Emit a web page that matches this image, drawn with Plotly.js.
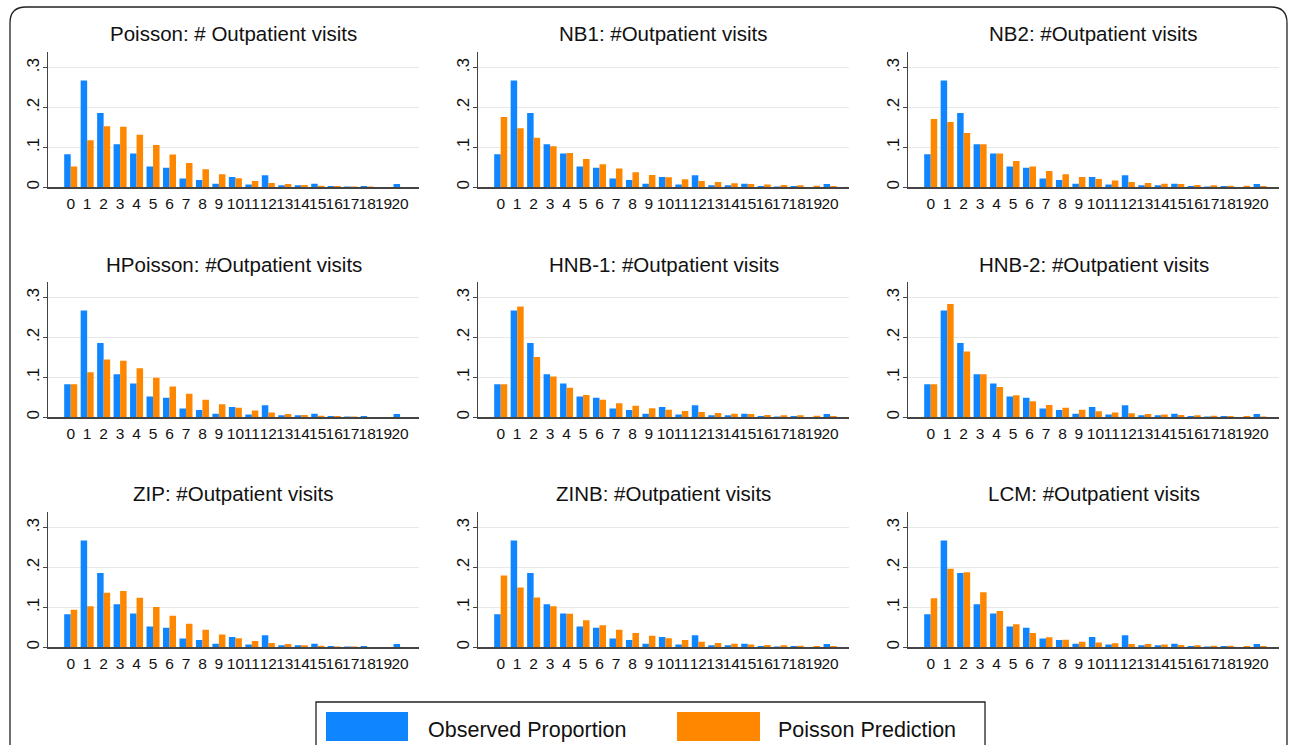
<!DOCTYPE html>
<html>
<head>
<meta charset="utf-8">
<script src="https://cdn.plot.ly/plotly-3.0.1.min.js"></script>
<style>html,body{margin:0;padding:0;background:#fff;}#chart{width:1295px;height:745px;}</style>
</head>
<body>
<div id="chart"></div>
<script>
// ---- data ----
const counts = [0,1,2,3,4,5,6,7,8,9,10,11,12,13,14,15,16,17,18,19,20];
const countLabels = ["0","1","2","3","4","5","6","7","8","9","10","11","12","13","14","15","16","17","18","19","20"];
const yTickVals = [0, 0.1, 0.2, 0.3];
const yTickText = ["0", ".1", ".2", ".3"];
const seriesNames = ["Observed Proportion", "Poisson Prediction"];

const observed = [0.083,0.268,0.186,0.108,0.085,0.052,0.049,0.022,0.018,0.009,0.026,0.007,0.030,0.005,0.005,0.009,0.003,0.002,0.003,0.001,0.008];

const panelTitles = [
  "Poisson: # Outpatient visits", "NB1: #Outpatient visits", "NB2: #Outpatient visits",
  "HPoisson: #Outpatient visits", "HNB-1: #Outpatient visits", "HNB-2: #Outpatient visits",
  "ZIP: #Outpatient visits", "ZINB: #Outpatient visits", "LCM: #Outpatient visits"
];

const predPoisson  = [0.052,0.118,0.153,0.152,0.132,0.106,0.082,0.061,0.045,0.033,0.023,0.016,0.011,0.008,0.006,0.004,0.003,0.002,0.002,0.001,0.001];
const predNB1      = [0.176,0.148,0.124,0.103,0.086,0.071,0.058,0.047,0.038,0.031,0.025,0.020,0.016,0.013,0.010,0.008,0.007,0.006,0.005,0.004,0.003];
const predNB2      = [0.171,0.164,0.136,0.108,0.085,0.066,0.052,0.041,0.033,0.026,0.021,0.017,0.013,0.011,0.009,0.008,0.006,0.005,0.004,0.004,0.003];
const predHPoisson = [0.083,0.113,0.145,0.142,0.123,0.099,0.077,0.059,0.044,0.033,0.024,0.017,0.012,0.008,0.006,0.004,0.003,0.002,0.001,0.001,0.001];
const predHNB1     = [0.083,0.278,0.151,0.102,0.074,0.056,0.044,0.035,0.029,0.023,0.019,0.016,0.013,0.011,0.009,0.008,0.006,0.005,0.005,0.004,0.003];
const predHNB2     = [0.083,0.284,0.165,0.108,0.076,0.055,0.040,0.031,0.024,0.019,0.015,0.012,0.010,0.008,0.007,0.006,0.005,0.004,0.003,0.003,0.002];
const predZIP      = [0.094,0.103,0.137,0.141,0.124,0.101,0.079,0.059,0.044,0.032,0.023,0.016,0.011,0.008,0.005,0.004,0.002,0.002,0.001,0.001,0.001];
const predZINB     = [0.180,0.150,0.125,0.103,0.084,0.068,0.055,0.044,0.036,0.029,0.023,0.018,0.014,0.011,0.009,0.007,0.006,0.005,0.004,0.003,0.003];
const predLCM      = [0.123,0.197,0.188,0.138,0.091,0.058,0.036,0.025,0.019,0.014,0.012,0.010,0.008,0.008,0.007,0.006,0.005,0.004,0.004,0.003,0.003];

const predictions = [predPoisson, predNB1, predNB2, predHPoisson, predHNB1, predHNB2, predZIP, predZINB, predLCM];

// ---- styling / layout ----
const W = 1295, H = 745;
const BLUE = "#0f86ff", ORANGE = "#ff8700";
const FONT = "Liberation Sans, Arial, Helvetica, sans-serif";
const colPx = [[48.3, 419], [478.3, 849], [908.3, 1279]];
const rowPx = [[51.7, 187.3], [281.7, 417.3], [511.7, 647.3]]; // top, bottom (px)
const titleY = [34, 264, 494];

const traces = [];
const layout = {
  width: W, height: H,
  margin: {l: 0, r: 0, t: 0, b: 0},
  paper_bgcolor: "#ffffff", plot_bgcolor: "#ffffff",
  barmode: "group", bargap: 0.21, bargroupgap: 0,
  showlegend: false,
  font: {family: FONT, color: "#111"},
  annotations: [], shapes: []
};

for (let i = 0; i < 9; i++) {
  const r = Math.floor(i / 3), c = i % 3;
  const sfx = i === 0 ? "" : String(i + 1);
  const xa = "x" + sfx, ya = "y" + sfx;
  traces.push({type: "bar", x: counts, y: observed, name: seriesNames[0], xaxis: xa, yaxis: ya,
    marker: {color: BLUE, line: {width: 0}}, hoverinfo: "x+y"});
  traces.push({type: "bar", x: counts, y: predictions[i], name: seriesNames[1], xaxis: xa, yaxis: ya,
    marker: {color: ORANGE, line: {width: 0}}, hoverinfo: "x+y"});
  layout["xaxis" + sfx] = {
    domain: [colPx[c][0] / W, colPx[c][1] / W], anchor: ya,
    range: [-1.36, 21.15], tickvals: counts, ticktext: countLabels,
    showgrid: false, zeroline: false, showline: true, linecolor: "#444", linewidth: 1.3,
    ticks: "", tickangle: 0, ticklabelstandoff: 2,
    tickfont: {family: FONT, size: 15.5, color: "#111"}, fixedrange: true
  };
  layout["yaxis" + sfx] = {
    domain: [1 - rowPx[r][1] / H, 1 - rowPx[r][0] / H], anchor: xa,
    range: [0, 0.34], tickvals: yTickVals, ticktext: yTickText,
    showgrid: true, gridcolor: "#e8e8e8", gridwidth: 1.3, zeroline: false,
    showline: true, linecolor: "#444", linewidth: 1.3,
    ticks: "outside", ticklen: 4, tickcolor: "#444", tickwidth: 1,
    tickangle: -90, ticklabelstandoff: -3,
    tickfont: {family: FONT, size: 17, color: "#111"}, fixedrange: true
  };
  layout.annotations.push({
    text: panelTitles[i], xref: "paper", yref: "paper",
    x: (colPx[c][0] + colPx[c][1]) / 2 / W, y: 1 - titleY[r] / H,
    xanchor: "center", yanchor: "middle", showarrow: false,
    font: {family: FONT, size: 20.5, color: "#111"}
  });
}

// outer rounded frame
(function(){
  const x0 = 10 / W, x1 = 1287 / W, yt = 1 - 7 / H, yb = -0.05;
  const rx = 16 / W, ry = 16 / H;
  layout.shapes.push({type: "path", xref: "paper", yref: "paper",
    path: `M ${x0},${yb} L ${x0},${yt - ry} Q ${x0},${yt} ${x0 + rx},${yt} L ${x1 - rx},${yt} Q ${x1},${yt} ${x1},${yt - ry} L ${x1},${yb}`,
    line: {color: "#222", width: 1.3}});
})();

// legend box (manual, large swatches)
const px2x = v => v / W, px2y = v => 1 - v / H;
layout.shapes.push({type: "rect", xref: "paper", yref: "paper",
  x0: px2x(316), x1: px2x(985), y0: px2y(760), y1: px2y(702),
  line: {color: "#222", width: 1.3}, fillcolor: "rgba(0,0,0,0)"});
layout.shapes.push({type: "rect", xref: "paper", yref: "paper",
  x0: px2x(326), x1: px2x(408), y0: px2y(741), y1: px2y(712),
  line: {width: 0}, fillcolor: BLUE});
layout.shapes.push({type: "rect", xref: "paper", yref: "paper",
  x0: px2x(677), x1: px2x(760), y0: px2y(741), y1: px2y(712),
  line: {width: 0}, fillcolor: ORANGE});
layout.annotations.push({text: seriesNames[0], xref: "paper", yref: "paper",
  x: px2x(426), y: px2y(730), xanchor: "left", yanchor: "middle", showarrow: false,
  font: {family: FONT, size: 21.5, color: "#111"}});
layout.annotations.push({text: seriesNames[1], xref: "paper", yref: "paper",
  x: px2x(776), y: px2y(730), xanchor: "left", yanchor: "middle", showarrow: false,
  font: {family: FONT, size: 21.5, color: "#111"}});

Plotly.newPlot("chart", traces, layout, {displayModeBar: false, staticPlot: true});
</script>
</body>
</html>
